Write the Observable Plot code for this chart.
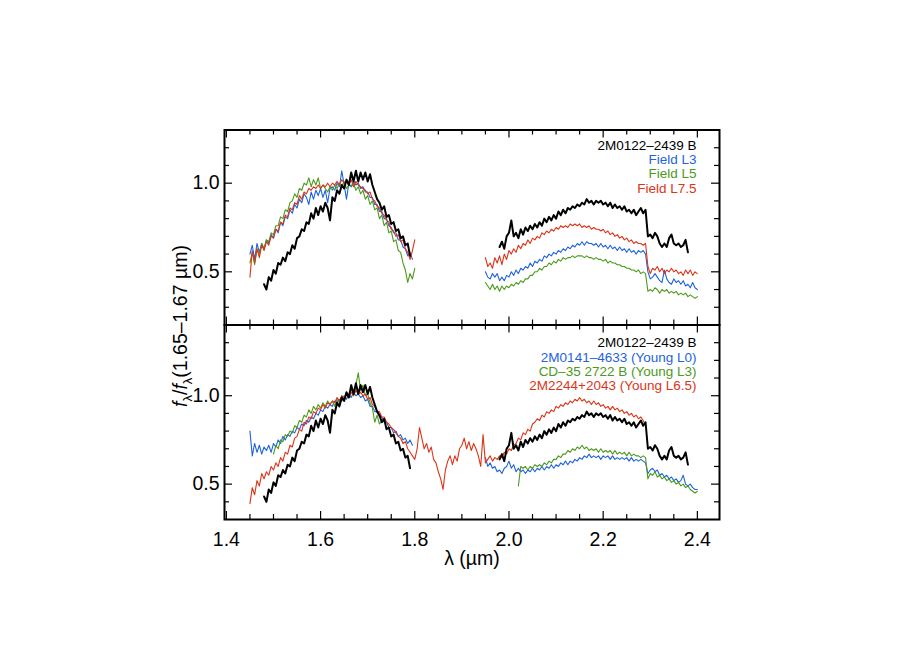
<!DOCTYPE html>
<html><head><meta charset="utf-8">
<script src="https://cdn.jsdelivr.net/npm/d3@7"></script>
<script src="https://cdn.jsdelivr.net/npm/@observablehq/plot@0.6"></script>
<style>
html,body{margin:0;padding:0;background:#fff;}
#chart{position:relative;width:900px;height:650px;overflow:hidden;font-family:"Liberation Sans",Arial,Helvetica,sans-serif;}
#chart .pane{position:absolute;left:0;}
#ylab{position:absolute;left:0;top:0;pointer-events:none;}
</style></head><body><div id="chart"></div>
<script>
// ---------- data (wavelength grid: start + i * STEP, in µm) ----------
const STEP = 0.005;

// 2M0122-2439 B (shown in both panels)
const blackH_start = 1.480;
const blackH = [0.43,0.40,0.47,0.45,0.51,0.49,0.55,0.54,0.58,0.56,0.61,0.60,0.65,0.63,0.69,0.70,0.74,0.73,0.78,0.77,0.83,0.80,0.86,0.82,0.87,0.84,0.89,0.86,0.79,0.92,0.90,0.96,0.94,0.99,0.97,1.02,0.99,1.06,1.01,1.07,1.01,1.06,1.02,1.06,1.01,1.05,0.99,0.95,0.91,0.89,0.85,0.87,0.81,0.82,0.77,0.78,0.73,0.74,0.69,0.70,0.65,0.66,0.59];
const blackK_start = 1.980;
const blackK = [0.64,0.67,0.63,0.70,0.72,0.79,0.70,0.72,0.69,0.74,0.71,0.75,0.73,0.76,0.74,0.77,0.75,0.78,0.76,0.80,0.78,0.81,0.79,0.82,0.80,0.84,0.82,0.85,0.83,0.86,0.85,0.87,0.86,0.88,0.87,0.89,0.88,0.91,0.89,0.90,0.88,0.90,0.89,0.90,0.88,0.89,0.87,0.89,0.86,0.88,0.86,0.87,0.85,0.87,0.84,0.85,0.83,0.85,0.82,0.84,0.86,0.83,0.85,0.70,0.71,0.69,0.72,0.70,0.66,0.64,0.66,0.64,0.69,0.71,0.66,0.65,0.66,0.64,0.65,0.68,0.61];

// Field L3
const fieldL3H_start = 1.450;
const fieldL3H = [0.60,0.65,0.57,0.66,0.61,0.66,0.63,0.68,0.66,0.71,0.69,0.74,0.72,0.78,0.76,0.81,0.80,0.85,0.83,0.88,0.86,0.91,0.89,0.94,0.92,0.88,0.95,0.91,0.96,0.93,0.97,0.92,0.96,0.89,0.97,0.98,0.96,1.00,0.98,1.07,0.99,0.91,1.00,0.98,1.01,0.99,1.00,0.97,0.98,0.95,0.95,0.92,0.92,0.88,0.88,0.84,0.84,0.80,0.80,0.76,0.75,0.72,0.72,0.68,0.68,0.64,0.63,0.59,0.61,0.57];
const fieldL3K_start = 1.950;
const fieldL3K = [0.50,0.47,0.46,0.49,0.47,0.49,0.45,0.47,0.45,0.48,0.47,0.50,0.48,0.51,0.49,0.52,0.51,0.53,0.52,0.55,0.53,0.56,0.55,0.57,0.56,0.59,0.58,0.60,0.59,0.61,0.60,0.62,0.61,0.63,0.62,0.64,0.63,0.65,0.64,0.66,0.65,0.67,0.65,0.67,0.66,0.66,0.65,0.66,0.64,0.66,0.64,0.65,0.63,0.65,0.63,0.64,0.62,0.64,0.62,0.63,0.61,0.63,0.61,0.62,0.60,0.62,0.61,0.62,0.60,0.50,0.46,0.47,0.49,0.47,0.45,0.44,0.51,0.46,0.44,0.43,0.46,0.44,0.45,0.43,0.45,0.42,0.43,0.41,0.44,0.41,0.40];

// Field L5
const fieldL5H_start = 1.450;
const fieldL5H = [0.55,0.61,0.54,0.63,0.60,0.66,0.63,0.68,0.67,0.72,0.71,0.76,0.76,0.81,0.80,0.85,0.84,0.89,0.90,0.94,0.92,0.97,0.96,1.00,0.99,1.03,0.98,1.02,0.99,1.03,0.97,0.99,0.97,0.95,0.98,0.96,0.99,0.97,1.00,0.98,1.01,0.97,0.99,0.98,1.00,0.96,0.98,0.94,0.96,0.91,0.93,0.88,0.90,0.85,0.86,0.80,0.82,0.76,0.78,0.72,0.73,0.67,0.68,0.62,0.61,0.55,0.51,0.44,0.49,0.46,0.52];
const fieldL5K_start = 1.950;
const fieldL5K = [0.44,0.42,0.40,0.43,0.40,0.42,0.39,0.42,0.40,0.42,0.41,0.43,0.42,0.44,0.43,0.45,0.44,0.46,0.46,0.48,0.48,0.50,0.50,0.52,0.51,0.53,0.53,0.55,0.54,0.56,0.55,0.57,0.56,0.58,0.57,0.58,0.58,0.59,0.58,0.59,0.59,0.59,0.58,0.59,0.58,0.58,0.57,0.58,0.57,0.57,0.56,0.57,0.55,0.56,0.55,0.55,0.54,0.54,0.53,0.53,0.52,0.52,0.51,0.51,0.50,0.51,0.49,0.50,0.49,0.39,0.40,0.39,0.41,0.40,0.38,0.40,0.39,0.40,0.38,0.39,0.38,0.39,0.37,0.38,0.37,0.38,0.36,0.37,0.36,0.35,0.36];

// Field L7.5
const fieldL75H_start = 1.450;
const fieldL75H = [0.47,0.62,0.55,0.63,0.58,0.65,0.62,0.67,0.65,0.70,0.69,0.74,0.73,0.78,0.77,0.82,0.81,0.86,0.85,0.89,0.88,0.93,0.91,0.95,0.94,0.97,0.96,0.98,0.97,0.99,0.97,0.99,0.98,1.00,0.98,1.00,0.99,1.01,0.99,1.02,1.00,1.01,0.99,1.02,0.98,1.01,0.99,0.98,0.97,0.96,0.94,0.95,0.91,0.90,0.87,0.86,0.83,0.82,0.79,0.78,0.74,0.73,0.70,0.71,0.67,0.68,0.63,0.61,0.57,0.62,0.68];
const fieldL75K_start = 1.950;
const fieldL75K = [0.58,0.53,0.55,0.52,0.58,0.55,0.59,0.54,0.60,0.57,0.62,0.60,0.63,0.61,0.65,0.63,0.66,0.65,0.68,0.66,0.69,0.68,0.70,0.69,0.72,0.71,0.73,0.72,0.74,0.73,0.75,0.74,0.76,0.75,0.76,0.75,0.77,0.76,0.77,0.76,0.77,0.75,0.76,0.75,0.76,0.74,0.75,0.74,0.74,0.73,0.74,0.72,0.73,0.71,0.72,0.70,0.71,0.69,0.70,0.68,0.69,0.67,0.68,0.66,0.67,0.66,0.66,0.65,0.66,0.53,0.49,0.52,0.51,0.53,0.50,0.52,0.49,0.51,0.50,0.52,0.50,0.51,0.49,0.50,0.48,0.51,0.49,0.51,0.48,0.50,0.49];

// 2M0141-4633 (Young L0)
const youngL0H_start = 1.450;
const youngL0H = [0.80,0.66,0.73,0.68,0.72,0.67,0.71,0.69,0.72,0.68,0.73,0.71,0.75,0.73,0.77,0.75,0.78,0.77,0.80,0.79,0.82,0.81,0.84,0.83,0.86,0.85,0.88,0.87,0.90,0.89,0.92,0.91,0.94,0.93,0.95,0.94,0.97,0.96,0.98,0.97,1.00,0.98,1.01,0.99,1.02,1.00,1.01,0.99,1.00,0.97,0.98,0.94,0.94,0.91,0.91,0.88,0.88,0.85,0.85,0.82,0.82,0.79,0.80,0.77,0.78,0.75,0.76,0.73,0.75,0.72];
const youngL0K_start = 1.950;
const youngL0K = [0.65,0.60,0.62,0.59,0.60,0.57,0.58,0.56,0.59,0.60,0.63,0.59,0.61,0.57,0.59,0.57,0.58,0.56,0.58,0.57,0.59,0.57,0.59,0.58,0.60,0.58,0.60,0.59,0.61,0.59,0.61,0.60,0.62,0.61,0.63,0.61,0.63,0.62,0.64,0.63,0.65,0.64,0.66,0.65,0.67,0.65,0.66,0.65,0.66,0.64,0.66,0.65,0.66,0.64,0.66,0.64,0.65,0.64,0.65,0.64,0.65,0.63,0.65,0.63,0.64,0.63,0.64,0.63,0.62,0.56,0.58,0.59,0.57,0.58,0.55,0.56,0.54,0.55,0.53,0.54,0.52,0.53,0.51,0.52,0.55,0.50,0.49,0.50,0.48,0.47,0.47];

// CD-35 2722 B (Young L3)
const youngL3H_start = 1.500;
const youngL3H = [0.67,0.72,0.70,0.75,0.74,0.78,0.77,0.80,0.79,0.83,0.82,0.86,0.85,0.89,0.88,0.92,0.90,0.94,0.92,0.95,0.93,0.96,0.94,0.97,0.95,0.97,0.94,0.98,0.96,1.00,0.98,1.02,0.99,1.04,1.00,1.06,1.13,1.03,1.06,1.00,1.01,0.96,0.93,0.85,0.89,0.84,0.86];
const youngL3K_start = 2.020;
const youngL3K = [0.49,0.60,0.59,0.60,0.58,0.60,0.59,0.61,0.60,0.61,0.60,0.62,0.61,0.63,0.62,0.64,0.64,0.66,0.65,0.67,0.67,0.69,0.68,0.70,0.69,0.71,0.70,0.72,0.70,0.71,0.69,0.70,0.69,0.70,0.68,0.70,0.68,0.69,0.68,0.69,0.67,0.69,0.67,0.68,0.67,0.68,0.66,0.68,0.66,0.67,0.66,0.66,0.65,0.66,0.65,0.53,0.56,0.55,0.57,0.54,0.55,0.53,0.54,0.52,0.53,0.51,0.52,0.50,0.51,0.49,0.50,0.48,0.49,0.47,0.46,0.45,0.46];

// 2M2244+2043 (Young L6.5), continuous across 1.45–2.29 µm
const youngL65_start = 1.450;
const youngL65 = [0.39,0.48,0.44,0.52,0.49,0.56,0.53,0.57,0.55,0.60,0.58,0.62,0.60,0.65,0.63,0.68,0.67,0.72,0.71,0.76,0.77,0.81,0.80,0.85,0.84,0.88,0.87,0.91,0.90,0.93,0.92,0.95,0.93,0.96,0.95,0.97,0.96,0.99,0.97,1.00,0.98,1.01,0.99,1.02,1.00,1.03,1.01,1.02,1.00,1.01,0.98,0.99,0.95,0.94,0.91,0.91,0.88,0.88,0.85,0.84,0.82,0.81,0.79,0.77,0.76,0.73,0.74,0.70,0.68,0.66,0.64,0.70,0.82,0.76,0.70,0.73,0.68,0.71,0.64,0.62,0.57,0.53,0.47,0.58,0.63,0.66,0.61,0.66,0.63,0.70,0.72,0.76,0.70,0.74,0.69,0.73,0.70,0.66,0.60,0.78,0.62,0.64,0.66,0.63,0.65,0.64,0.66,0.65,0.68,0.67,0.70,0.69,0.72,0.73,0.76,0.75,0.79,0.78,0.81,0.80,0.84,0.85,0.87,0.86,0.89,0.88,0.91,0.90,0.92,0.91,0.94,0.93,0.95,0.94,0.96,0.95,0.97,0.96,0.98,0.97,0.99,0.97,0.98,0.96,0.97,0.95,0.97,0.95,0.96,0.94,0.95,0.93,0.94,0.92,0.94,0.92,0.93,0.91,0.92,0.90,0.91,0.89,0.90,0.88,0.89,0.87,0.88,0.86,0.83];

// axis ticks
const xMajor = [1.4, 1.6, 1.8, 2.0, 2.2, 2.4];
const xMinor = [1.45, 1.5, 1.55, 1.65, 1.7, 1.75, 1.85, 1.9, 1.95, 2.05, 2.1, 2.15, 2.25, 2.3, 2.35];
const yMajor = [0.5, 1.0];
const yMinorTop = [0.3, 0.4, 0.6, 0.7, 0.8, 0.9, 1.1, 1.2];
const yMinorBottom = [0.4, 0.6, 0.7, 0.8, 0.9, 1.1, 1.2, 1.3];

// labels
const legendTop = ["2M0122\u20132439 B", "Field L3", "Field L5", "Field L7.5"];
const legendBottom = ["2M0122\u20132439 B", "2M0141\u20134633 (Young L0)", "CD\u201335 2722 B (Young L3)", "2M2244+2043 (Young L6.5)"];
const xLabel = "\u03bb (\u00b5m)";

// ---------- styles ----------
const BLACK = "#000000", BLUE = "#1f63dc", GREEN = "#4c9a1c", RED = "#dc3418";
const legendColors = [BLACK, BLUE, GREEN, RED];
const FONT = "'Liberation Sans', Arial, Helvetica, sans-serif";

function spectrum(band, start, values) {
  return values.map((flux, i) => ({band, lambda: start + i * STEP, flux}));
}

const topSeries = [
  {color: BLUE, width: 1.1, data: [...spectrum("H", fieldL3H_start, fieldL3H), ...spectrum("K", fieldL3K_start, fieldL3K)]},
  {color: GREEN, width: 1.1, data: [...spectrum("H", fieldL5H_start, fieldL5H), ...spectrum("K", fieldL5K_start, fieldL5K)]},
  {color: RED, width: 1.1, data: [...spectrum("H", fieldL75H_start, fieldL75H), ...spectrum("K", fieldL75K_start, fieldL75K)]},
  {color: BLACK, width: 2, data: [...spectrum("H", blackH_start, blackH), ...spectrum("K", blackK_start, blackK)]}
];
const bottomSeries = [
  {color: BLUE, width: 1.1, data: [...spectrum("H", youngL0H_start, youngL0H), ...spectrum("K", youngL0K_start, youngL0K)]},
  {color: GREEN, width: 1.1, data: [...spectrum("H", youngL3H_start, youngL3H), ...spectrum("K", youngL3K_start, youngL3K)]},
  {color: RED, width: 1.1, data: spectrum("HK", youngL65_start, youngL65)},
  {color: BLACK, width: 2, data: [...spectrum("H", blackH_start, blackH), ...spectrum("K", blackK_start, blackK)]}
];

const W = 900, ML = 224, MR = 181;
const FW = W - ML - MR;
const XDOMAIN = [1.396, 2.447];

function panel({series, yDomain, yMinor, height, marginTop, marginBottom, legend, legendDy, showX}) {
  const FH = height - marginTop - marginBottom;
  const tickStyle = {stroke: "black", strokeWidth: 1.2};
  const marks = [];
  for (const s of series) {
    marks.push(Plot.line(s.data, {x: "lambda", y: "flux", z: "band", stroke: s.color, strokeWidth: s.width, strokeLinejoin: "round"}));
  }
  // inward ticks on all four sides
  marks.push(Plot.tickX(xMajor, {x: d => d, insetTop: FH - 8, ...tickStyle}));
  marks.push(Plot.tickX(xMajor, {x: d => d, insetBottom: FH - 8, ...tickStyle}));
  marks.push(Plot.tickX(xMinor, {x: d => d, insetTop: FH - 5, ...tickStyle}));
  marks.push(Plot.tickX(xMinor, {x: d => d, insetBottom: FH - 5, ...tickStyle}));
  marks.push(Plot.tickY(yMajor, {y: d => d, insetRight: FW - 8, ...tickStyle}));
  marks.push(Plot.tickY(yMajor, {y: d => d, insetLeft: FW - 8, ...tickStyle}));
  marks.push(Plot.tickY(yMinor, {y: d => d, insetRight: FW - 5, ...tickStyle}));
  marks.push(Plot.tickY(yMinor, {y: d => d, insetLeft: FW - 5, ...tickStyle}));
  marks.push(Plot.frame({stroke: "black", strokeWidth: 2}));
  legend.forEach((label, i) => {
    marks.push(Plot.text([label], {text: d => d, frameAnchor: "top-right", textAnchor: "end", lineAnchor: "bottom",
      dx: -23, dy: legendDy + i * 14.4, fill: legendColors[i], fontSize: 13.5}));
  });
  if (showX) {
    marks.push(Plot.text([xLabel], {text: d => d, frameAnchor: "bottom", lineAnchor: "bottom", dy: 45, fontSize: 19.5, fill: "black"}));
  }
  return Plot.plot({
    width: W, height, marginLeft: ML, marginRight: MR, marginTop, marginBottom,
    style: {fontFamily: FONT, fontSize: "19.5px", overflow: "visible", background: "transparent", color: "black"},
    x: showX
      ? {domain: XDOMAIN, ticks: xMajor, tickSize: 0, tickPadding: 13, tickFormat: ".1f", label: null}
      : {domain: XDOMAIN, axis: null},
    y: {domain: yDomain, ticks: yMajor, tickSize: 0, tickPadding: 5, tickFormat: ".1f", label: null},
    marks
  });
}

const chart = document.getElementById("chart");
const topPlot = panel({series: topSeries, yDomain: [0.2, 1.3], yMinor: yMinorTop, height: 325, marginTop: 129.5, marginBottom: 0.5,
  legend: legendTop, legendDy: 19.5, showX: false});
const bottomPlot = panel({series: bottomSeries, yDomain: [0.3, 1.4], yMinor: yMinorBottom, height: 326, marginTop: 0.5, marginBottom: 131,
  legend: legendBottom, legendDy: 22.2, showX: true});
const d1 = document.createElement("div"); d1.className = "pane"; d1.style.top = "0px"; d1.appendChild(topPlot);
const d2 = document.createElement("div"); d2.className = "pane"; d2.style.top = "324px"; d2.appendChild(bottomPlot);
chart.appendChild(d1); chart.appendChild(d2);

// rotated y-axis title with italic f and subscript λ
const ov = d3.select(chart).append("svg").attr("id", "ylab").attr("width", 900).attr("height", 650);
const yt = ov.append("text").attr("transform", "translate(187,326) rotate(-90)")
  .attr("text-anchor", "middle").attr("font-family", FONT).attr("font-size", 19.5).attr("fill", "black");
yt.append("tspan").attr("font-style", "italic").text("f");
yt.append("tspan").attr("dy", 5).attr("font-size", 13).text("\u03bb");
yt.append("tspan").attr("dy", -5).text("/");
yt.append("tspan").attr("font-style", "italic").text("f");
yt.append("tspan").attr("dy", 5).attr("font-size", 13).text("\u03bb");
yt.append("tspan").attr("dy", -5).text("(1.65\u20131.67 \u00b5m)");
</script></body></html>
